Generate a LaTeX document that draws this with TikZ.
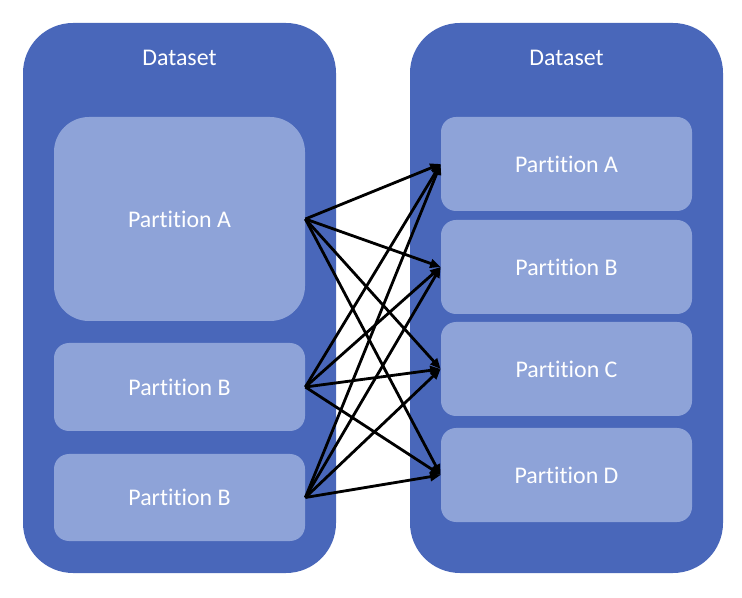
\documentclass[tikz,border=0pt]{standalone}
\usepackage{fontspec}
\setmainfont{Carlito}[Ligatures={NoCommon,NoContextual}]
\usetikzlibrary{arrows.meta}

\definecolor{dsblue}{RGB}{73,103,186}
\definecolor{ptblue}{RGB}{142,163,216}

\tikzset{
  dataset/.style={fill=dsblue, minimum width=6.26cm, minimum height=11cm, rounded corners=1cm, inner sep=0pt},
  part/.style={fill=ptblue, text=white, minimum width=5.02cm, rounded corners=0.3cm, inner sep=0pt, font=\fontsize{13.6}{15}\selectfont},
  title/.style={text=white, font=\fontsize{13.6}{15}\selectfont},
  flow/.style={-{Triangle[length=6pt,width=5pt]}, line width=1.6pt, black}
}

\begin{document}
\begin{tikzpicture}

        \useasboundingbox (0,0) rectangle (14.84,-11.96);

        % the two datasets
        \node[dataset] (left) at (3.59, -5.96) {};
        \node[title] (lefttitle) at (3.59, -1.16) {Dataset};
        \node[dataset] (right) at (11.33, -5.96) {};
        \node[title] (righttitle) at (11.33, -1.16) {Dataset};

        % left partitions
        \node[part, minimum height=4.08cm, rounded corners=0.7cm] (la) at (3.59, -4.38) {Partition A};
        \node[part, minimum height=1.76cm] (lb) at (3.59, -7.74) {Partition B};
        \node[part, minimum height=1.74cm] (lc) at (3.59, -9.95) {Partition B};

        % right partitions
        \node[part, minimum height=1.88cm] (ra) at (11.33, -3.28) {Partition A};
        \node[part, minimum height=1.88cm] (rb) at (11.33, -5.34) {Partition B};
        \node[part, minimum height=1.88cm] (rc) at (11.33, -7.38) {Partition C};
        \node[part, minimum height=1.88cm] (rd) at (11.33, -9.50) {Partition D};

        \foreach \s in {la,lb,lc}
            \foreach \t in {ra,rb,rc,rd}
                \draw[flow] (\s.east) -- (\t.west);

    \end{tikzpicture}
\end{document}
